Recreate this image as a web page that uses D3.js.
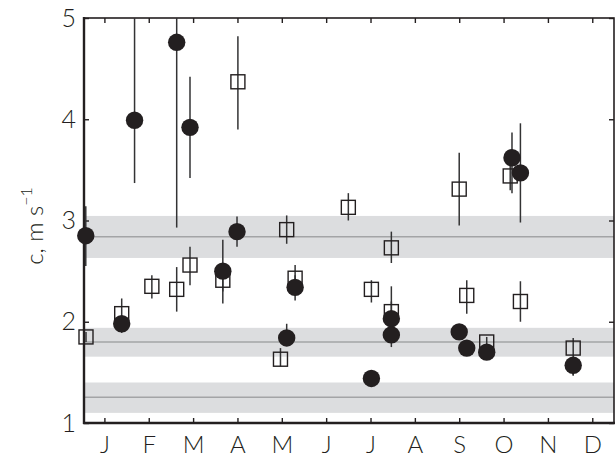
<!DOCTYPE html>
<html>
<head>
<meta charset="utf-8">
<script src="https://cdn.jsdelivr.net/npm/d3@7"></script>
<style>
  body { margin: 0; background: #fff; }
  svg text { font-family: "Lato", "Open Sans", "DejaVu Sans", sans-serif; font-weight: 300; fill: #231f20; }
</style>
</head>
<body>
<svg id="chart" width="615" height="459"></svg>
<script>
// ---- data ----
const months = ["J","F","M","A","M","J","J","A","S","O","N","D"];
const monthTicks = [1,2,3,4,5,6,7,8,9,10,11,12];
const yTicks = [1,2,3,4,5];

// gray reference bands: [low, centre, high]
const bandLow    = [2.63, 1.655, 1.10];
const bandCentre = [2.84, 1.80, 1.254];
const bandHigh   = [3.045, 1.94, 1.40];

// open squares: x (month units), value, error low, error high
const sqX  = [0.585, 1.39, 2.07, 2.63, 2.93, 3.67, 4.01, 4.97, 5.11, 5.30, 6.50, 7.02, 7.47, 7.47, 9.00, 9.17, 9.62, 10.15, 10.38, 11.57];
const sqY  = [1.85, 2.08, 2.35, 2.32, 2.56, 2.41, 4.37, 1.63, 2.91, 2.43, 3.13, 2.32, 2.73, 2.10, 3.31, 2.26, 1.80, 3.44, 2.20, 1.74];
const sqLo = [1.80, 1.98, 2.23, 2.10, 2.36, 2.30, 3.90, 1.56, 2.77, 2.33, 3.00, 2.19, 2.58, 2.00, 2.95, 2.08, 1.75, 3.30, 2.00, 1.47];
const sqHi = [1.90, 2.23, 2.46, 2.54, 2.74, 2.50, 4.82, 1.74, 3.05, 2.56, 3.27, 2.41, 2.89, 2.20, 3.67, 2.41, 1.85, 3.58, 2.40, 1.84];

// filled circles: x (month units), value, error low, error high
const ciX  = [0.58, 1.39, 1.68, 2.63, 2.93, 3.67, 3.99, 5.11, 5.30, 7.02, 7.47, 7.47, 9.00, 9.17, 9.62, 10.19, 10.38, 11.57];
const ciY  = [2.85, 1.98, 3.99, 4.76, 3.92, 2.50, 2.89, 1.84, 2.34, 1.44, 2.03, 1.87, 1.90, 1.74, 1.70, 3.62, 3.47, 1.57];
const ciLo = [2.55, 1.89, 3.37, 2.93, 3.42, 2.18, 2.74, 1.78, 2.21, 1.40, 1.95, 1.75, 1.86, 1.70, 1.66, 3.27, 2.98, 1.47];
const ciHi = [3.14, 2.05, 5.30, 5.30, 4.42, 2.81, 3.04, 1.98, 2.46, 1.48, 2.35, 1.95, 1.94, 1.78, 1.74, 3.87, 3.96, 1.65];

// ---- layout ----
const L = 84, R = 614, T = 18, B = 423;
const svg = d3.select("#chart");
const x = d3.scaleLinear().domain([0.54, 12.49]).range([L, R]);
const y = d3.scaleLinear().domain([1, 5]).range([B, T]);

svg.append("defs").append("clipPath").attr("id", "plotclip")
  .append("rect").attr("x", L).attr("y", T).attr("width", R - L).attr("height", B - T);
svg.select("defs").append("clipPath").attr("id", "vclip")
  .append("rect").attr("x", 0).attr("y", T).attr("width", 615).attr("height", B - T);

const plot = svg.append("g").attr("clip-path", "url(#plotclip)");

// bands
const bands = bandLow.map((d, i) => ({lo: d, c: bandCentre[i], hi: bandHigh[i]}));
plot.selectAll("rect.band").data(bands).join("rect")
  .attr("class", "band")
  .attr("x", L).attr("width", R - L)
  .attr("y", d => y(d.hi)).attr("height", d => y(d.lo) - y(d.hi))
  .attr("fill", "#dcdddf");
plot.selectAll("line.bandc").data(bands).join("line")
  .attr("class", "bandc")
  .attr("x1", L).attr("x2", R)
  .attr("y1", d => y(d.c)).attr("y2", d => y(d.c))
  .attr("stroke", "#a3a4a6").attr("stroke-width", 1.5);

const squares = sqX.map((d, i) => ({x: d, y: sqY[i], lo: sqLo[i], hi: sqHi[i]}));
const circles = ciX.map((d, i) => ({x: d, y: ciY[i], lo: ciLo[i], hi: ciHi[i]}));

// axes: inward ticks
const tickStyle = g => {
  g.select(".domain").remove();
  g.selectAll(".tick line").attr("stroke", "#231f20").attr("stroke-width", 1.4);
};
svg.append("g").attr("transform", `translate(0,${B})`)
  .call(d3.axisBottom(x).tickValues(monthTicks).tickSize(-5).tickFormat(""))
  .call(tickStyle);
svg.append("g").attr("transform", `translate(0,${T})`)
  .call(d3.axisTop(x).tickValues(monthTicks).tickSize(-5).tickFormat(""))
  .call(tickStyle);
svg.append("g").attr("transform", `translate(${L},0)`)
  .call(d3.axisLeft(y).tickValues(yTicks).tickSize(-5).tickFormat(""))
  .call(tickStyle);
svg.append("g").attr("transform", `translate(${R},0)`)
  .call(d3.axisRight(y).tickValues(yTicks).tickSize(-5).tickFormat(""))
  .call(tickStyle);

// frame
svg.append("rect").attr("x", L).attr("y", T).attr("width", R - L).attr("height", B - T)
  .attr("fill", "none").attr("stroke", "#231f20").attr("stroke-width", 1.6);
svg.append("line").attr("x1", L).attr("x2", L).attr("y1", T - 1).attr("y2", B + 1)
  .attr("stroke", "#231f20").attr("stroke-width", 2.4);
svg.append("line").attr("x1", L - 1).attr("x2", R + 1).attr("y1", B).attr("y2", B)
  .attr("stroke", "#231f20").attr("stroke-width", 2.4);

const marks = svg.append("g").attr("clip-path", "url(#vclip)");

// error bars
marks.selectAll("line.eb").data(squares.concat(circles)).join("line")
  .attr("class", "eb")
  .attr("x1", d => x(d.x)).attr("x2", d => x(d.x))
  .attr("y1", d => y(d.lo)).attr("y2", d => y(d.hi))
  .attr("stroke", "#333334").attr("stroke-width", 1.5);

// squares
const s = 14;
marks.selectAll("rect.sq").data(squares).join("rect")
  .attr("class", "sq")
  .attr("x", d => x(d.x) - s / 2).attr("y", d => y(d.y) - s / 2)
  .attr("width", s).attr("height", s)
  .attr("fill", "none").attr("stroke", "#231f20").attr("stroke-width", 1.4);

// circles
marks.selectAll("circle.ci").data(circles).join("circle")
  .attr("class", "ci")
  .attr("cx", d => x(d.x)).attr("cy", d => y(d.y)).attr("r", 8.7)
  .attr("fill", "#231f20");

// labels
const xl = svg.append("g").attr("transform", `translate(0,${B})`)
  .call(d3.axisBottom(x).tickValues(monthTicks).tickSize(0).tickPadding(13)
    .tickFormat((d, i) => months[i]));
xl.select(".domain").remove();
xl.selectAll("text").attr("font-size", 24).style("font-family", null);

const yl = svg.append("g").attr("transform", `translate(${L},0)`)
  .call(d3.axisLeft(y).tickValues(yTicks).tickSize(0).tickPadding(8).tickFormat(d3.format("d")));
yl.select(".domain").remove();
yl.selectAll("text").attr("font-size", 25).style("font-family", null);

// y-axis title
const yt = svg.append("text")
  .attr("transform", `translate(43,226) rotate(-90)`)
  .attr("text-anchor", "middle").attr("font-size", 24);
yt.append("tspan").text("c, m s");
yt.append("tspan").attr("font-size", 16).attr("dy", -11).text("−1");
</script>
</body>
</html>
